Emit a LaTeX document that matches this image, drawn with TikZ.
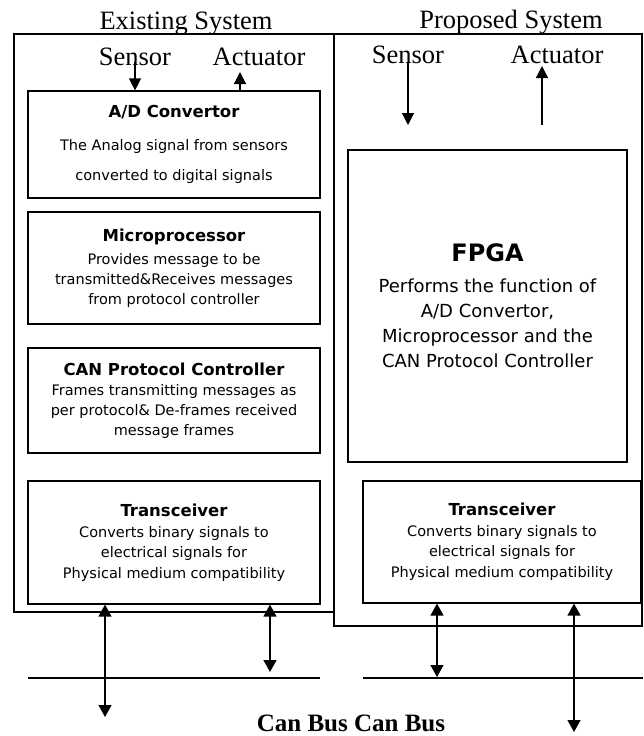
\documentclass[tikz,border=0pt]{standalone}
\usepackage{fontspec}
\setmainfont{Liberation Serif}
\setsansfont{DejaVu Sans}
\usetikzlibrary{arrows.meta}
\newcommand{\unittitle}[1]{{\bfseries\fontsize{16.5}{20}\selectfont #1}}
\begin{document}
\begin{tikzpicture}[x=1pt,y=-1pt,
    frame/.style={draw, line width=1.2pt, inner sep=0pt},
    unit/.style={draw, line width=1.2pt, inner sep=0pt, align=center,
        font=\sffamily\fontsize{14.5}{20}\selectfont},
    lbl/.style={font=\fontsize{26.5}{30}\selectfont, inner sep=0pt, anchor=base},
    sig/.style={line width=1.3pt, -{Triangle[width=12pt,length=12pt]}},
    bus/.style={line width=1.3pt, {Triangle[width=13pt,length=12pt]}-{Triangle[width=13pt,length=12pt]}}]
                \useasboundingbox (0,0) rectangle (643,736);
                % outer frames
                \node[frame, minimum width=320pt, minimum height=578pt] (exist) at (174,323) {};
                \node[frame, minimum width=308pt, minimum height=592pt] (prop) at (488,330) {};
                \node[lbl] (existT) at (186,29) {Existing System};
                \node[lbl] (propT) at (511,28) {Proposed System};

                % existing system
                \node[lbl] (sensL) at (135,65) {Sensor};
                \node[lbl] (actL) at (259,65) {Actuator};
                \node[unit, minimum width=292pt, minimum height=107pt] (adc) at (174,144.5)
                    {\unittitle{A/D Convertor}\\[13pt] The Analog signal from sensors\\[10pt] converted to digital signals};
                \node[unit, minimum width=292pt, minimum height=112pt] (mpu) at (174,268)
                    {\unittitle{Microprocessor}\\[3pt] Provides message to be\\ transmitted\&Receives messages\\ from protocol controller};
                \node[unit, minimum width=292pt, minimum height=105pt] (cpc) at (174,400.5)
                    {\unittitle{CAN Protocol Controller}\\ Frames transmitting messages as\\ per protocol\& De-frames received\\ message frames};
                \node[unit, minimum width=292pt, minimum height=123pt] (trxL) at (174,542.5)
                    {\unittitle{Transceiver}\\[1pt] Converts binary signals to\\ electrical signals for\\[1pt] Physical medium compatibility};

                % proposed system
                \node[lbl] (sensR) at (408,63) {Sensor};
                \node[lbl] (actR) at (557,63) {Actuator};
                \node[unit, minimum width=279pt, minimum height=312pt, font=\sffamily\fontsize{18}{25}\selectfont] (fpga) at (487.5,306)
                    {{\bfseries\fontsize{24}{28}\selectfont FPGA}\\[6pt] Performs the function of\\ A/D Convertor,\\ Microprocessor and the\\ CAN Protocol Controller};
                \node[unit, minimum width=278pt, minimum height=122pt] (trxR) at (502,542)
                    {\unittitle{Transceiver}\\[1pt] Converts binary signals to\\ electrical signals for\\[1pt] Physical medium compatibility};

                \coordinate (actLtip) at (240,72);
                \coordinate (sensRtip) at (408,125);
                \coordinate (actRbase) at (542,125);
                \coordinate (actRtip) at (542,66);
                \draw[sig] (sensL.south) ++(0,-3) -- (adc.north -| sensL); \draw[sig] (adc.north -| actLtip) -- (actLtip);
                \draw[sig] (sensR.south) ++(0,-1) -- (sensRtip); \draw[sig] (actRbase) -- (actRtip);

                % can bus
                \coordinate (busL1) at (28,678); \coordinate (busL2) at (320,678);
                \coordinate (busR1) at (363,678); \coordinate (busR2) at (643,678);
                \draw[line width=1.3pt] (busL1) -- (busL2); \draw[line width=1.3pt] (busR1) -- (busR2);
                \coordinate (tapL1) at (105,717); \coordinate (tapL2) at (270,672);
                \coordinate (tapR1) at (437,677); \coordinate (tapR2) at (574,732);
                \draw[bus] (trxL.south -| tapL1) -- (tapL1); \draw[bus] (trxL.south -| tapL2) -- (tapL2);
                \draw[bus] (trxR.south -| tapR1) -- (tapR1); \draw[bus] (trxR.south -| tapR2) -- (tapR2);
                \node[lbl, font=\bfseries\fontsize{25}{28}\selectfont] (canbus) at (351,731) {Can Bus Can Bus};
            \end{tikzpicture}
\end{document}
